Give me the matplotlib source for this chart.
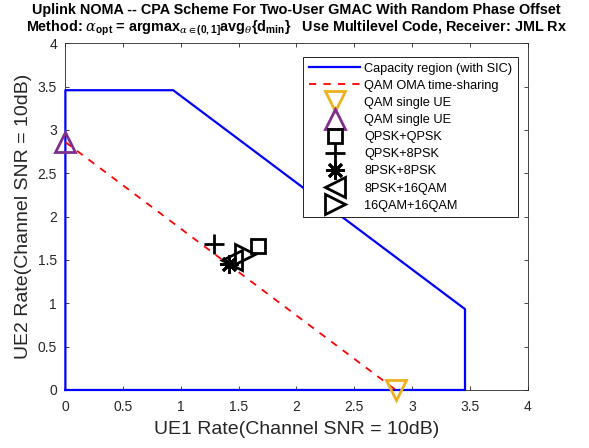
import matplotlib
matplotlib.use("Agg")
import matplotlib.pyplot as plt

plt.rcParams['font.family'] = ['Liberation Sans', 'DejaVu Sans']
plt.rcParams['mathtext.fontset'] = 'custom'
plt.rcParams['mathtext.rm'] = 'Liberation Sans:bold'
plt.rcParams['mathtext.bf'] = 'Liberation Sans:bold'
plt.rcParams['mathtext.it'] = 'DejaVu Serif:italic'
plt.rcParams['mathtext.fallback'] = 'stix'

# Capacity region (with SIC)
cap_x = [0, 0, 0.933, 3.459, 3.459, 0]
cap_y = [0, 3.459, 3.459, 0.933, 0, 0]
# OMA time-sharing
oma_x = [0, 2.86]
oma_y = [2.86, 0]
# single-user QAM points
ue1_single = (2.86, 0)
ue2_single = (0, 2.86)
# NOMA constellation pairs
pair_labels = ['QPSK+QPSK', 'QPSK+8PSK', '8PSK+8PSK', '8PSK+16QAM', '16QAM+16QAM']
pair_x = [1.669, 1.286, 1.418, 1.44, 1.554]
pair_y = [1.66, 1.69, 1.45, 1.50, 1.57]
pair_markers = ['s', '+', (8, 2, 0), '<', '>']
pair_ms = [10, 15, 13, 14, 14]

x_ticks = [0, 0.5, 1, 1.5, 2, 2.5, 3, 3.5, 4]
y_ticks = [0, 0.5, 1, 1.5, 2, 2.5, 3, 3.5, 4]

fig = plt.figure(figsize=(5.89, 4.48), dpi=100)
ax = fig.add_axes([0.111, 0.1295, 0.7846, 0.7738])

ax.plot(cap_x, cap_y, color=(0, 0, 1), lw=1.6, label='Capacity region (with SIC)', clip_on=False, zorder=3)
ax.plot(oma_x, oma_y, color=(1, 0, 0), lw=1.3, ls=(0, (4, 4)), label='QAM OMA time-sharing', zorder=3)
ax.plot([ue1_single[0]], [ue1_single[1]], ls='none', marker='v', ms=15, mfc='none',
        mec=(0.929, 0.694, 0.125), mew=2, label='QAM single UE', clip_on=False, zorder=4)
ax.plot([ue2_single[0]], [ue2_single[1]], ls='none', marker='^', ms=15, mfc='none',
        mec=(0.494, 0.184, 0.556), mew=2, label='QAM single UE', clip_on=False, zorder=4)
for lx, ly, lab, mk, ms in zip(pair_x, pair_y, pair_labels, pair_markers, pair_ms):
    ax.plot([lx], [ly], ls='none', marker=mk, ms=ms, mfc='none', mec='black', mew=2,
            label=lab, zorder=4)

ax.set_xlim(0, 4)
ax.set_ylim(0, 4)
ax.set_xticks(x_ticks)
ax.set_yticks(y_ticks)
ax.set_xticklabels([f'{t:g}' for t in x_ticks])
ax.set_yticklabels([f'{t:g}' for t in y_ticks])
ax.tick_params(direction='in', length=3, width=0.6, top=True, right=True,
               labelsize=10, colors=(0.15, 0.15, 0.15))
ax.tick_params(axis='x', pad=7)
ax.tick_params(axis='y', pad=6)
for sp in ax.spines.values():
    sp.set_color((0.15, 0.15, 0.15))
    sp.set_linewidth(0.6)

ax.set_xlabel('UE1 Rate(Channel SNR = 10dB)', fontsize=14, color=(0.15, 0.15, 0.15), labelpad=5)
ax.set_ylabel('UE2 Rate(Channel SNR = 10dB)', fontsize=14, color=(0.15, 0.15, 0.15), labelpad=4)

title = ('Uplink NOMA -- CPA Scheme For Two-User GMAC With Random Phase Offset\n'
         r'Method: $\alpha$$_{\mathbf{opt}}$ = argmax$_{\alpha\in\mathbf{(0,1]}}$avg$_\theta${d$_{\mathbf{min}}$}'
         '   Use Multilevel Code, Receiver: JML Rx')
ax.set_title(title, fontsize=10.4, fontweight='bold', pad=8.5, linespacing=1.15)

leg = ax.legend(loc='upper right', bbox_to_anchor=(0.8795, 0.8728), bbox_transform=fig.transFigure,
                borderaxespad=0, fontsize=9.2, fancybox=False, framealpha=1, edgecolor='black',
                labelspacing=0.4, handlelength=4.0, handletextpad=0.3, borderpad=0.45)
leg.get_frame().set_linewidth(0.6)

fig.savefig('out.png', dpi=100)
